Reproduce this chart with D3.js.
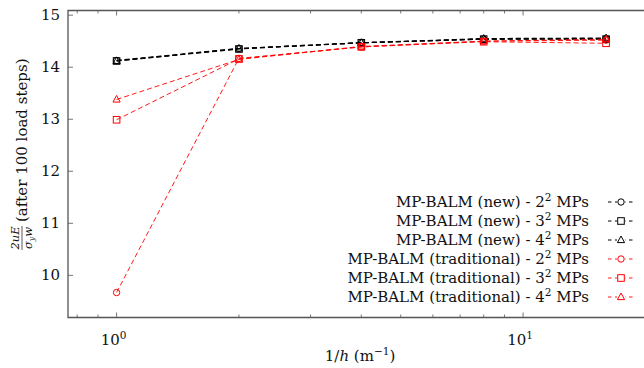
<!DOCTYPE html>
<html><head><meta charset="utf-8">
<script src="https://cdn.jsdelivr.net/npm/d3@7"></script>
<style>body{margin:0;background:#fff}svg{display:block}</style>
</head><body><svg id="c" width="644" height="368" font-family="'DejaVu Serif', 'Liberation Serif', serif"></svg>
<script>
const xVals = [1, 2, 4, 8, 16];
const newMP2 = [14.13, 14.36, 14.47, 14.54, 14.55];
const newMP3 = [14.12, 14.35, 14.47, 14.54, 14.54];
const newMP4 = [14.12, 14.36, 14.47, 14.55, 14.56];
const tradMP2 = [9.67, 14.17, 14.39, 14.50, 14.52];
const tradMP3 = [12.99, 14.16, 14.39, 14.49, 14.46];
const tradMP4 = [13.38, 14.15, 14.40, 14.50, 14.54];
const seriesNames = ["MP-BALM (new) - ", "MP-BALM (new) - ", "MP-BALM (new) - ", "MP-BALM (traditional) - ", "MP-BALM (traditional) - ", "MP-BALM (traditional) - "];
const seriesBase = ["2", "3", "4", "2", "3", "4"];
const seriesColors = ["#000", "#000", "#000", "#ff0000", "#ff0000", "#ff0000"];
const seriesMarks = ["circle", "square", "triangle", "circle", "square", "triangle"];
const seriesData = [newMP2, newMP3, newMP4, tradMP2, tradMP3, tradMP4];
const yTicks = [10, 11, 12, 13, 14, 15];
const xMajor = [1, 10];

const svg = d3.select("#c");
const L = 68, T = 10.5, B = 317.5, R = 655;
const x = d3.scaleLog().domain([Math.pow(10, -0.1195), Math.pow(10, 1.3245)]).range([L, R]);
const y = d3.scaleLinear().domain([9.19, 15.09]).range([B, T]);

svg.append("clipPath").attr("id", "clp").append("rect").attr("x", L).attr("y", T).attr("width", R - L).attr("height", B - T);

const axC = "#555";
const minor = [];
for (let d = 0.1; d < 100; d *= 10) for (let k = 1; k < 10; k++) { const v = +(d * k).toPrecision(6); if (v >= x.domain()[0] && v <= x.domain()[1]) minor.push(v); }
const tg = svg.append("g").attr("stroke", axC).attr("stroke-width", 0.8);
minor.forEach(v => {
  const major = xMajor.includes(v);
  const len = major ? 5 : 3;
  tg.append("line").attr("x1", x(v)).attr("x2", x(v)).attr("y1", B).attr("y2", B - len);
  tg.append("line").attr("x1", x(v)).attr("x2", x(v)).attr("y1", T).attr("y2", T + len);
});
yTicks.forEach(v => {
  tg.append("line").attr("x1", L).attr("x2", L + 5).attr("y1", y(v)).attr("y2", y(v));
});

svg.append("path").attr("d", `M${R},${T}H${L}V${B}H${R}`).attr("fill", "none").attr("stroke", axC).attr("stroke-width", 1.3);

yTicks.forEach(v => {
  svg.append("text").attr("x", L - 8).attr("y", y(v) + 5).attr("text-anchor", "end").attr("font-size", 15).attr("fill", "#111").text(v);
});
xMajor.forEach(v => {
  const t = svg.append("text").attr("x", x(v) - 3).attr("y", B + 27).attr("text-anchor", "middle").attr("font-size", 15).attr("fill", "#111");
  t.append("tspan").text("10");
  t.append("tspan").attr("dy", -6).attr("font-size", 10.5).text(String(Math.round(Math.log10(v))));
});

const xl = svg.append("text").attr("x", 360).attr("y", 361).attr("text-anchor", "middle").attr("font-size", 15).attr("fill", "#111");
xl.append("tspan").text("1/");
xl.append("tspan").attr("font-style", "italic").text("h");
xl.append("tspan").text(" (m");
xl.append("tspan").attr("dy", -6).attr("font-size", 10.5).text("−1");
xl.append("tspan").attr("dy", 6).text(")");

const yl = svg.append("g").attr("transform", "translate(22,163) rotate(-90)");
const fx = -75;
yl.append("text").attr("x", fx).attr("y", -3).attr("text-anchor", "middle").attr("font-size", 11.5).attr("font-style", "italic").attr("fill", "#111").text("2uE");
yl.append("line").attr("x1", fx - 12).attr("x2", fx + 12).attr("y1", 0).attr("y2", 0).attr("stroke", "#111").attr("stroke-width", 0.7);
const den = yl.append("text").attr("x", fx).attr("y", 10).attr("text-anchor", "middle").attr("font-size", 11.5).attr("font-style", "italic").attr("fill", "#111");
den.append("tspan").text("σ");
den.append("tspan").attr("font-size", 8).attr("dy", 2).text("y");
den.append("tspan").attr("dy", -2).text("w");
yl.append("text").attr("x", fx + 16).attr("y", 5).attr("font-size", 15).attr("fill", "#111").text("(after 100 load steps)");

function drawMarker(g, kind, cx, cy, color) {
  if (kind === "circle") g.append("circle").attr("cx", cx).attr("cy", cy).attr("r", 3.2).attr("fill", "none").attr("stroke", color).attr("stroke-width", 1);
  else if (kind === "square") g.append("rect").attr("x", cx - 3.3).attr("y", cy - 3.3).attr("width", 6.6).attr("height", 6.6).attr("fill", "none").attr("stroke", color).attr("stroke-width", 1);
  else g.append("path").attr("d", `M${cx},${cy - 4}L${cx + 3.6},${cy + 2.6}L${cx - 3.6},${cy + 2.6}Z`).attr("fill", "none").attr("stroke", color).attr("stroke-width", 1);
}

const pg = svg.append("g").attr("clip-path", "url(#clp)");
const line = d3.line().x(d => x(d[0])).y(d => y(d[1]));
seriesData.forEach((s, i) => {
  const pts = xVals.map((xv, j) => [xv, s[j]]);
  pg.append("path").attr("d", line(pts)).attr("fill", "none").attr("stroke", seriesColors[i]).attr("stroke-width", i < 3 ? 1.2 : 0.9).attr("stroke-dasharray", "5,3");
  pts.forEach(p => drawMarker(pg, seriesMarks[i], x(p[0]), y(p[1]), seriesColors[i]));
});

const legY = [202, 221, 240, 259, 278, 297];
seriesData.forEach((s, i) => {
  const t = svg.append("text").attr("x", 589).attr("y", legY[i] + 5).attr("text-anchor", "end").attr("font-size", 15).attr("fill", "#111");
  t.append("tspan").text(seriesNames[i] + seriesBase[i]);
  t.append("tspan").attr("dy", -6).attr("font-size", 10.5).text("2");
  t.append("tspan").attr("dy", 6).text(" MPs");
  svg.append("line").attr("x1", 608).attr("x2", 633).attr("y1", legY[i]).attr("y2", legY[i]).attr("stroke", seriesColors[i]).attr("stroke-width", i < 3 ? 1.2 : 0.9).attr("stroke-dasharray", "3.5,3.5");
  svg.append("rect").attr("x", 617).attr("y", legY[i] - 4.5).attr("width", 8).attr("height", 9).attr("fill", "#fff");
  drawMarker(svg, seriesMarks[i], 621, legY[i], seriesColors[i]);
});
</script></body></html>
